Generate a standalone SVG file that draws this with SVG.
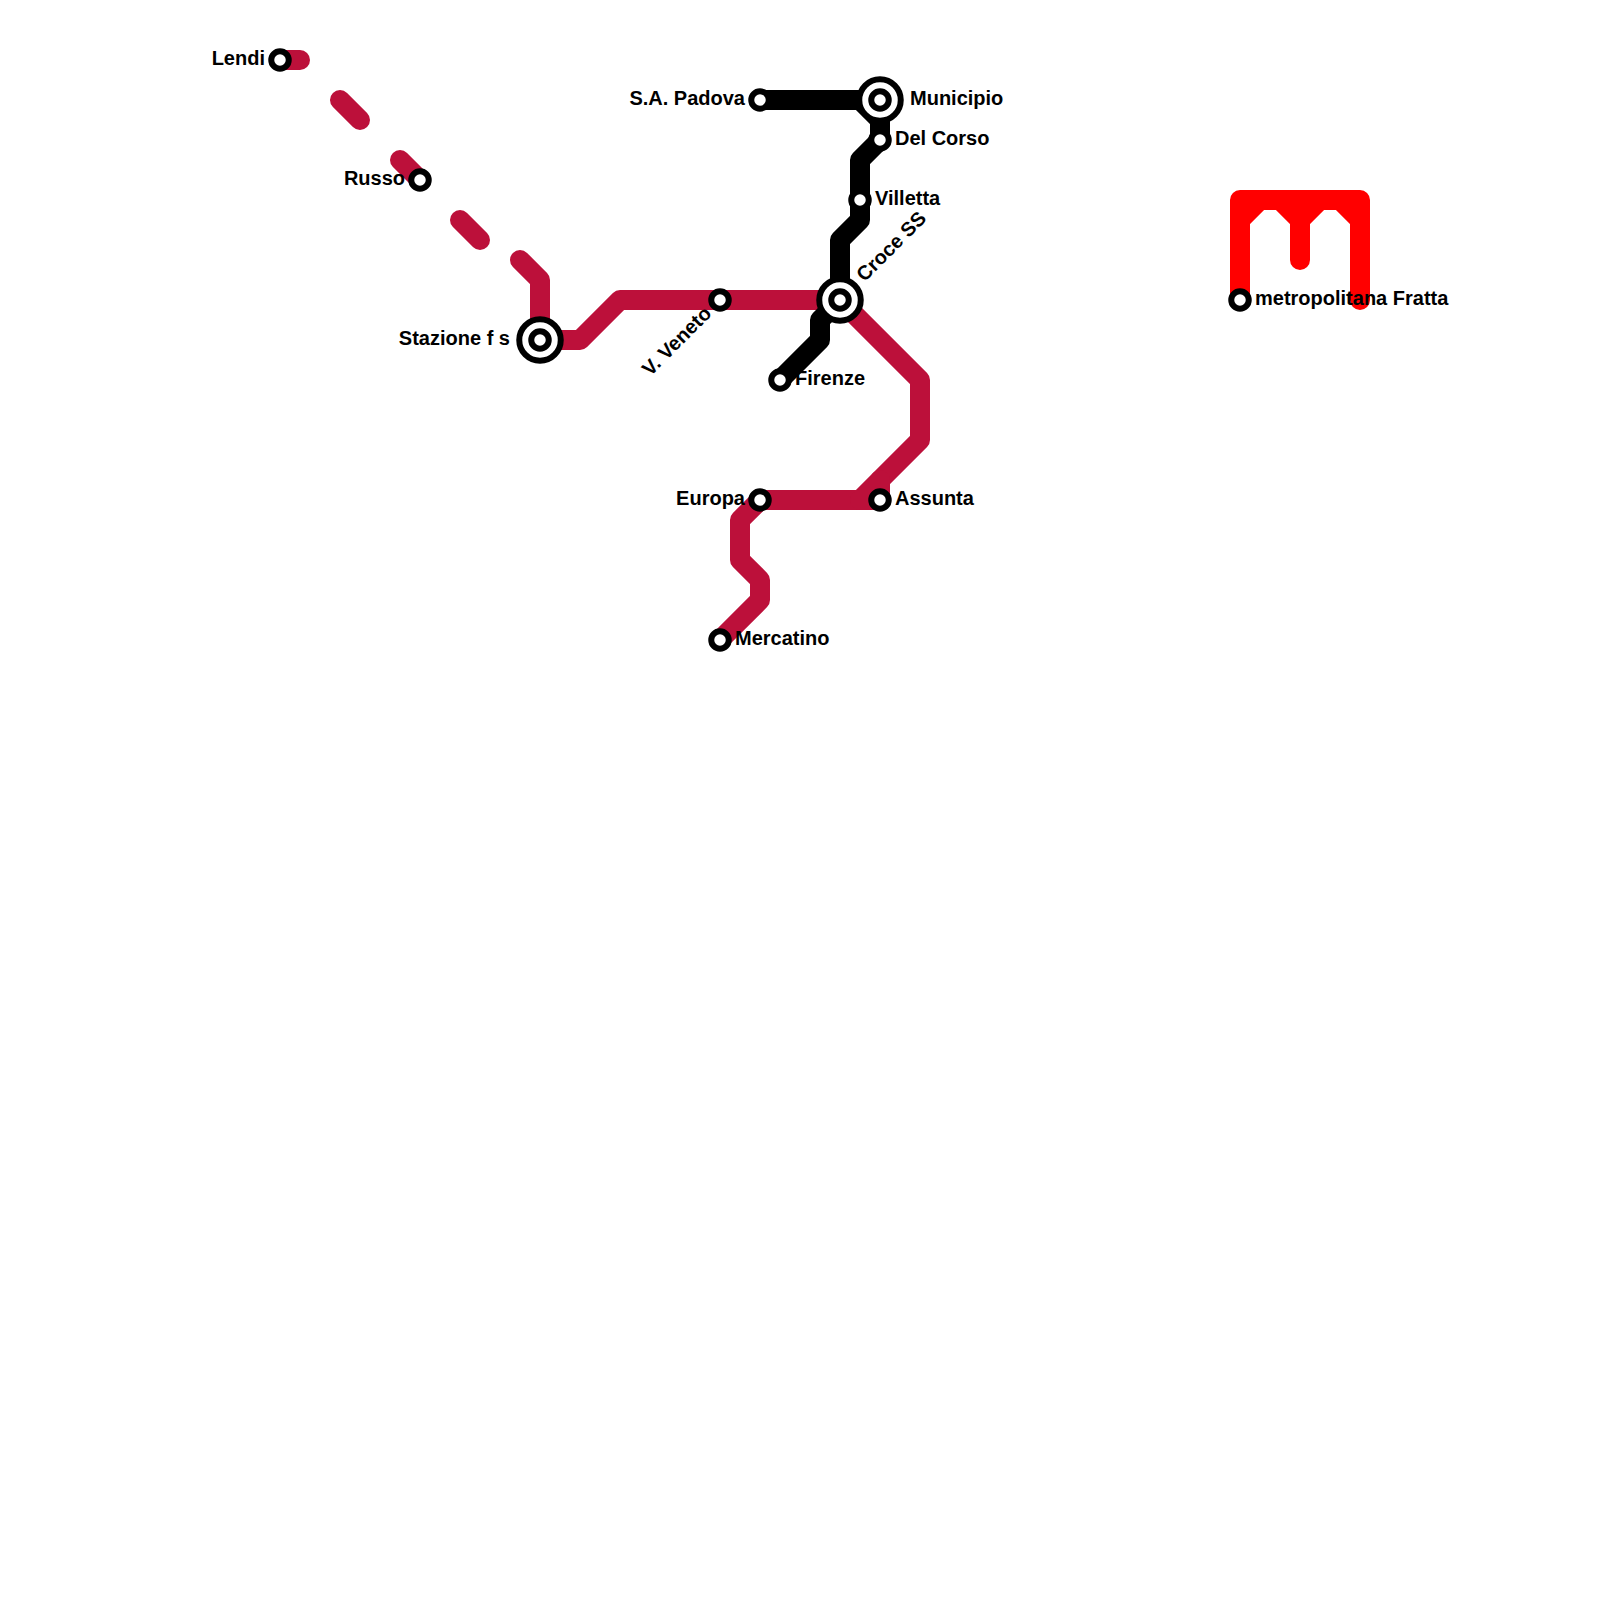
<svg xmlns="http://www.w3.org/2000/svg" width="1600" height="1600" viewBox="0 0 1600 1600">
<style>
.l{fill:none;stroke-width:20;stroke-linecap:round;stroke-linejoin:round}
.c{stroke:#bc103a}.k{stroke:#000}.r{stroke:#f00}
.s{fill:#fff;stroke:#000;stroke-width:6}
text{font-family:"Liberation Sans",Arial,sans-serif;font-weight:700;font-size:20px;fill:#000}
.e{text-anchor:end}
</style>
<defs>
<circle id="st" class="s" r="8.750"/>
<g id="ix"><circle class="s" r="20.750"/><circle class="s" r="8.750"/></g>
</defs>
<rect width="1600" height="1600" fill="#fff"/>
<g id="connectors">
<path class="l c" d="M280 60H300"/>
<path class="l c" d="M340 100L360 120"/>
<path class="l c" d="M400 160L420 180"/>
<path class="l c" d="M460 220L480 240"/>
<path class="l c" d="M520 260L540 280V340H580L620 300H840L920 380V440L860 500H760L740 520V560L760 580V600L720 640"/>
<path class="l c" d="M880 480V500H860"/>
<path class="l k" d="M760 100H860L880 120V140L860 160V220L840 240V300L820 320V340L780 380"/>
<path class="l r" d="M1240 300V200H1360V300"/>
<path class="l r" d="M1240 220L1260 200M1280 200L1300 220V260M1300 220L1320 200M1340 200L1360 220"/>
</g>
<g id="lendi"><use href="#st" x="280" y="60"/><text class="e" x="265" y="65">Lendi</text></g>
<g id="russo"><use href="#st" x="420" y="180"/><text class="e" x="405" y="185">Russo</text></g>
<g id="stazione"><use href="#ix" x="540" y="340"/><text class="e" x="510" y="345">Stazione f s</text></g>
<g id="veneto"><use href="#st" x="720" y="300"/><text class="e" transform="rotate(-45 709 311)" x="709" y="316">V. Veneto</text></g>
<g id="croce"><use href="#ix" x="840" y="300"/><text transform="rotate(-45 861 279)" x="861" y="284">Croce SS</text></g>
<g id="padova"><use href="#st" x="760" y="100"/><text class="e" x="745" y="105">S.A. Padova</text></g>
<g id="municipio"><use href="#ix" x="880" y="100"/><text x="910" y="105">Municipio</text></g>
<g id="delcorso"><use href="#st" x="880" y="140"/><text x="895" y="145">Del Corso</text></g>
<g id="villetta"><use href="#st" x="860" y="200"/><text x="875" y="205">Villetta</text></g>
<g id="firenze"><use href="#st" x="780" y="380"/><text x="795" y="385">Firenze</text></g>
<g id="europa"><use href="#st" x="760" y="500"/><text class="e" x="745" y="505">Europa</text></g>
<g id="assunta"><use href="#st" x="880" y="500"/><text x="895" y="505">Assunta</text></g>
<g id="mercatino"><use href="#st" x="720" y="640"/><text x="735" y="645">Mercatino</text></g>
<g id="fratta"><use href="#st" x="1240" y="300"/><text x="1255" y="305">metropolitana Fratta</text></g>
</svg>
